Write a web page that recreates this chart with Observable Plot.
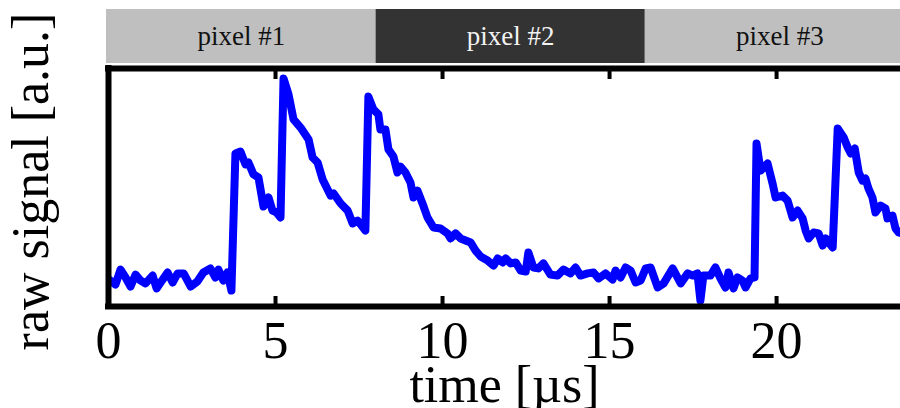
<!DOCTYPE html>
<html>
<head>
<meta charset="utf-8">
<script src="https://cdn.jsdelivr.net/npm/d3@7"></script>
<script src="https://cdn.jsdelivr.net/npm/@observablehq/plot@0.6"></script>
<style>
  html, body { margin: 0; padding: 0; background: #fff; }
  #chart { position: relative; width: 900px; line-height: 0; }
  #chart svg { display: block; }
  #chart svg.main { position: relative; z-index: 1; }
</style>
</head>
<body>
<div id="chart"></div>
<script>
// Raw detector signal over time (µs) in arbitrary units
const time = [0.06,0.21,0.36,0.51,0.66,0.81,0.96,1.11,1.32,1.44,
  1.56,1.77,1.92,2.07,2.25,2.46,2.66,2.84,3.05,3.20,
  3.29,3.44,3.56,3.68,3.80,3.95,4.10,4.19,4.34,4.49,
  4.64,4.79,4.91,5.03,5.15,5.24,5.39,5.54,5.75,5.99,
  6.11,6.26,6.41,6.50,6.65,6.74,6.95,7.16,7.31,7.46,
  7.69,7.78,7.93,8.08,8.14,8.29,8.38,8.53,8.65,8.74,
  8.89,9.04,9.13,9.25,9.40,9.55,9.73,9.94,10.15,10.24,
  10.39,10.54,10.84,10.99,11.14,11.35,11.53,11.65,11.80,11.89,
  12.04,12.19,12.34,12.49,12.57,12.72,12.87,13.02,13.23,13.44,
  13.62,13.83,13.98,14.13,14.34,14.52,14.67,14.88,15.09,15.18,
  15.33,15.48,15.63,15.78,15.93,16.08,16.23,16.44,16.62,16.89,
  17.13,17.34,17.49,17.63,17.72,17.81,18.02,18.17,18.32,18.47,
  18.56,18.71,18.83,18.98,19.07,19.22,19.34,19.40,19.52,19.73,
  19.88,19.97,20.18,20.33,20.48,20.63,20.78,20.87,20.96,21.11,
  21.26,21.38,21.47,21.56,21.68,21.83,22.01,22.13,22.22,22.34,
  22.46,22.57,22.66,22.75,22.87,22.96,23.11,23.26,23.32,23.47,
  23.56,23.65,23.77];
const signal = [10.9,9.2,15.5,12.2,8.4,13.4,10.9,9.7,13.0,7.6,
  10.1,14.3,10.1,13.9,13.9,8.4,10.5,14.3,16.0,12.2,
  15.5,10.9,14.3,6.7,64.3,65.1,59.7,60.5,55.5,54.2,
  42.0,45.8,40.3,39.5,37.4,95.8,89.1,78.6,75.2,70.2,
  62.6,60.5,53.4,50.8,46.6,47.5,43.3,40.3,34.9,36.1,
  31.9,88.2,82.8,80.7,74.4,74.4,66.0,63.0,56.3,58.8,
  56.3,52.1,45.8,48.7,43.3,37.4,33.2,32.8,30.7,28.6,
  30.7,28.6,26.9,23.5,21.0,19.3,17.2,20.2,18.5,20.2,
  18.1,18.5,15.1,14.7,22.7,16.4,16.0,18.1,13.4,13.0,
  15.5,13.9,16.4,13.0,13.9,14.3,11.8,13.9,11.3,15.1,
  12.2,16.4,15.1,10.1,10.9,16.0,16.4,8.0,9.7,16.0,
  9.7,13.9,13.0,13.9,2.5,13.0,13.0,16.4,11.8,8.0,
  14.3,7.6,12.2,10.9,8.0,11.8,12.2,68.5,57.1,60.1,
  51.7,45.8,46.6,44.5,37.4,40.3,37.0,31.9,28.6,31.1,
  30.7,25.6,28.6,26.9,24.8,74.8,71.0,66.8,64.3,66.4,
  56.3,52.9,53.8,49.6,45.8,39.5,42.4,41.2,37.0,38.2,
  32.8,31.1,30.7];

// Readout windows of the three pixels (µs)
const pixelLabels = ["pixel #1", "pixel #2", "pixel #3"];
const pixelStart = [-0.06, 8.01, 16.07];
const pixelEnd = [8.01, 16.07, 24.13];
const pixelFill = ["#bfbfbf", "#333333", "#bfbfbf"];
const pixelInk = ["#111111", "#f2f2f2", "#111111"];

const xTicks = [0, 5, 10, 15, 20];
const innerTicks = [5, 10, 15, 20];
const xDomain = [0, 23.71];
const yDomain = [0, 100];

const serif = "'Liberation Serif', 'Times New Roman', serif";

const series = time.map((t, i) => ({time: t, signal: signal[i]}));
const pixels = pixelLabels.map((label, i) => ({
  label, start: pixelStart[i], end: pixelEnd[i], fill: pixelFill[i], ink: pixelInk[i]
}));

// Header strip showing which pixel is being read out
const header = Plot.plot({
  width: 900,
  height: 64,
  marginLeft: 108,
  marginRight: 0,
  marginTop: 9,
  marginBottom: 1,
  x: {domain: xDomain, axis: null},
  style: {fontFamily: serif, background: "transparent"},
  marks: [
    Plot.rect(pixels, {x1: "start", x2: "end", fill: "fill"}),
    Plot.text(pixels, {
      x: d => (d.start + d.end) / 2,
      text: "label",
      fill: "ink",
      fontSize: 27,
      fontFamily: serif
    })
  ]
});

// Signal trace with a heavy partial frame and inward ticks
const main = Plot.plot({
  className: "main",
  width: 900,
  height: 344,
  marginLeft: 108,
  marginRight: 0,
  marginTop: 4,
  marginBottom: 102,
  x: {domain: xDomain},
  y: {domain: yDomain, axis: null},
  style: {fontFamily: serif, background: "transparent", overflow: "visible"},
  marks: [
    Plot.line(series, {
      x: "time", y: "signal",
      stroke: "#0000ff", strokeWidth: 8,
      strokeLinejoin: "round", strokeLinecap: "round"
    }),
    Plot.ruleY(yDomain, {stroke: "#000", strokeWidth: 6, strokeLinecap: "square"}),
    Plot.ruleX([xDomain[0]], {stroke: "#000", strokeWidth: 6, strokeLinecap: "square"}),
    Plot.axisX({anchor: "bottom", ticks: innerTicks, tickSize: -10, strokeWidth: 4, tickFormat: () => "", label: null}),
    Plot.axisX({anchor: "top", ticks: innerTicks, tickSize: -10, strokeWidth: 4, tickFormat: () => "", label: null}),
    Plot.axisX({
      anchor: "bottom", ticks: xTicks, tickSize: 0, tickPadding: 15,
      fontSize: 52, fontFamily: serif, fill: "#000", label: null
    }),
    Plot.text(["time [µs]"], {
      frameAnchor: "bottom", text: d => d, lineAnchor: "bottom",
      dy: 95, fontSize: 52, fontFamily: serif, fill: "#000"
    }),
    Plot.text(["raw signal [a.u.]"], {
      frameAnchor: "left", text: d => d, rotate: -90, textAnchor: "middle",
      dx: -77, dy: -6, fontSize: 52, fontFamily: serif, fill: "#000"
    })
  ]
});

const root = document.getElementById("chart");
root.appendChild(header);
root.appendChild(main);
</script>
</body>
</html>
